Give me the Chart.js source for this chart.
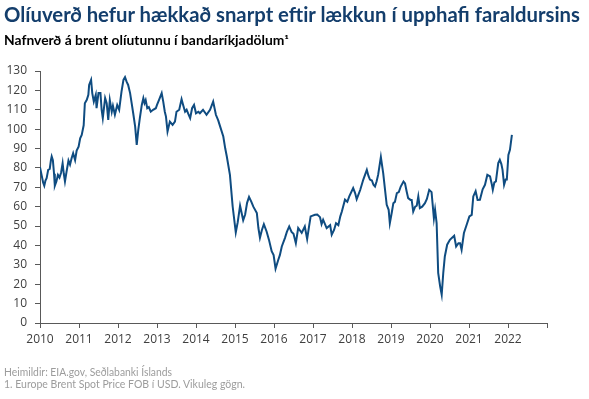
<!DOCTYPE html>
<html lang="is">
<head>
<meta charset="utf-8">
<script src="https://cdn.jsdelivr.net/npm/chart.js@4/dist/chart.umd.min.js"></script>
<style>
  html, body { margin: 0; padding: 0; background: #fff; }
  #wrap { position: relative; width: 589px; height: 399px; overflow: hidden; }
  #chart { position: absolute; left: 0; top: 0; }
  .txt { position: absolute; left: 4px; white-space: nowrap; font-family: Lato, "Open Sans", sans-serif; transform-origin: 0 0; }
  #title { top: 4px; font-size: 20px; line-height: 20px; font-weight: 700; color: #143e6c; }
  #subtitle { top: 35px; font-size: 12.5px; line-height: 12.5px; font-weight: 700; color: #000; }
  .foot { font-size: 11px; line-height: 11px; color: #9c9c9c; }
</style>
</head>
<body>
<div id="wrap">
  <canvas id="chart" width="589" height="399"></canvas>
  <div class="txt" id="title" data-w="576">Olíuverð hefur hækkað snarpt eftir lækkun í upphafi faraldursins</div>
  <div class="txt" id="subtitle" data-w="285">Nafnverð á brent olíutunnu í bandaríkjadölum¹</div>
  <div class="txt foot" style="top:366px" data-w="168">Heimildir: EIA.gov, Seðlabanki Íslands</div>
  <div class="txt foot" style="top:378px" data-w="241">1. Europe Brent Spot Price FOB í USD. Vikuleg gögn.</div>
</div>
<script>
// Brent price (USD per barrel), position in decimal years
const dates = [
  2010.00, 2010.04, 2010.08, 2010.11, 2010.14, 2010.17, 2010.21, 2010.25, 2010.28, 2010.30,
  2010.33, 2010.36, 2010.38, 2010.42, 2010.46, 2010.50, 2010.54, 2010.58, 2010.61, 2010.64,
  2010.68, 2010.73, 2010.77, 2010.81, 2010.85, 2010.90, 2010.94, 2010.99,
  2011.03, 2011.07, 2011.12, 2011.15, 2011.20, 2011.24, 2011.26, 2011.31, 2011.34, 2011.38,
  2011.43, 2011.45, 2011.50, 2011.55, 2011.58, 2011.61, 2011.67, 2011.71, 2011.75, 2011.79,
  2011.84, 2011.87, 2011.92, 2011.98,
  2012.03, 2012.09, 2012.14, 2012.18, 2012.22, 2012.26, 2012.31, 2012.35, 2012.39, 2012.44,
  2012.48, 2012.52, 2012.56, 2012.61, 2012.65, 2012.68, 2012.71, 2012.75, 2012.79, 2012.84,
  2012.90, 2012.97,
  2013.00, 2013.05, 2013.12, 2013.16, 2013.20, 2013.23, 2013.27, 2013.33, 2013.40, 2013.46,
  2013.50, 2013.57, 2013.63, 2013.67, 2013.72, 2013.76, 2013.80, 2013.85, 2013.90, 2013.95,
  2014.00, 2014.06, 2014.10, 2014.18, 2014.27, 2014.36, 2014.44, 2014.51, 2014.57, 2014.62,
  2014.70, 2014.75, 2014.79, 2014.87, 2014.94,
  2015.02, 2015.07, 2015.13, 2015.21, 2015.26, 2015.31, 2015.36, 2015.42, 2015.47, 2015.56,
  2015.60, 2015.64, 2015.69, 2015.74, 2015.81, 2015.87, 2015.94, 2015.99,
  2016.04, 2016.11, 2016.15, 2016.20, 2016.28, 2016.33, 2016.39, 2016.45, 2016.50, 2016.56,
  2016.62, 2016.71, 2016.79, 2016.85, 2016.90, 2016.94,
  2017.05, 2017.11, 2017.18, 2017.22, 2017.26, 2017.35, 2017.44, 2017.48, 2017.54, 2017.59,
  2017.65, 2017.70, 2017.74, 2017.82, 2017.88, 2017.93,
  2018.03, 2018.08, 2018.12, 2018.16, 2018.21, 2018.29, 2018.38, 2018.42, 2018.46, 2018.51,
  2018.55, 2018.59, 2018.63, 2018.67, 2018.74, 2018.80, 2018.84, 2018.89, 2018.94, 2018.97,
  2019.02, 2019.06, 2019.10, 2019.15, 2019.20, 2019.25, 2019.32, 2019.36, 2019.40, 2019.44,
  2019.50, 2019.53, 2019.57, 2019.62, 2019.66, 2019.70, 2019.74, 2019.80, 2019.87, 2019.92,
  2019.98,
  2020.04, 2020.10, 2020.13, 2020.17, 2020.21, 2020.26, 2020.30, 2020.34, 2020.38, 2020.44,
  2020.51, 2020.62, 2020.67, 2020.73, 2020.77, 2020.81, 2020.87, 2020.94,
  2021.01, 2021.07, 2021.11, 2021.17, 2021.22, 2021.28, 2021.35, 2021.41, 2021.47, 2021.54,
  2021.58, 2021.61, 2021.65, 2021.69, 2021.75, 2021.79, 2021.83, 2021.86, 2021.90, 2021.94,
  2021.97,
  2022.01, 2022.05, 2022.10
];
const prices = [
  80.4, 76.4, 72.5, 70.8, 73.5, 74.7, 79.0, 79.5, 84.0, 85.9,
  84.0, 77.0, 70.8, 73.0, 76.4, 75.0, 77.5, 82.4, 77.0, 73.0,
  78.0, 83.8, 81.7, 85.0, 87.6, 84.0, 89.0, 91.0,
  95.3, 97.0, 102.0, 113.4, 115.1, 117.7, 122.8, 125.4, 118.6, 114.2,
  117.7, 110.8, 118.6, 118.6, 110.0, 105.7, 116.0, 113.4, 104.8, 115.0,
  109.0, 112.0, 107.4, 112.5,
  110.0, 119.4, 125.4, 126.8, 124.5, 122.8, 118.6, 113.4, 108.2, 101.3,
  91.9, 99.6, 105.7, 112.5, 116.0, 113.4, 115.0, 110.8, 111.4, 109.0,
  110.0, 110.8,
  112.5, 115.0, 118.6, 114.2, 109.0, 106.5, 98.8, 103.9, 102.2, 103.9,
  109.0, 110.0, 115.5, 112.5, 109.0, 110.0, 108.0, 105.7, 110.8, 112.5,
  108.2, 109.0, 108.2, 110.0, 107.4, 110.0, 114.2, 107.4, 104.5, 101.3,
  96.2, 90.0, 85.9, 76.4, 60.1,
  46.7, 52.0, 60.5, 53.0, 56.0, 62.0, 65.0, 62.5, 60.0, 56.7,
  49.0, 44.0, 48.0, 51.0, 47.2, 43.0, 37.0, 35.0,
  28.0, 32.6, 35.0, 39.5, 43.8, 47.0, 49.8, 47.0, 46.0, 41.2,
  49.0, 46.5, 49.8, 43.3, 50.0, 55.0,
  55.8, 56.0, 54.6, 51.0, 53.3, 49.0, 50.5, 45.5, 48.0, 51.5,
  50.5, 55.0, 57.5, 63.6, 62.5, 65.3,
  69.6, 67.0, 63.9, 66.0, 68.6, 74.0, 79.0, 76.0, 74.0, 73.5,
  71.3, 70.4, 73.0, 76.4, 85.6, 77.3, 70.0, 61.0, 58.4, 51.5,
  57.0, 61.8, 62.5, 67.0, 67.5, 70.4, 73.0, 72.0, 68.0, 64.4,
  63.5, 63.5, 57.5, 60.0, 60.5, 65.3, 59.3, 60.0, 61.8, 64.0,
  68.7,
  67.5, 54.0, 58.4, 51.5, 25.8, 18.9, 14.6, 25.8, 34.3, 40.4,
  42.9, 45.0, 39.5, 41.2, 41.2, 37.8, 46.4, 50.7,
  55.0, 55.8, 65.3, 68.0, 63.5, 63.6, 69.0, 71.3, 76.4, 75.6,
  72.0, 68.7, 72.5, 73.0, 82.5, 84.2, 82.0, 79.0, 71.3, 74.0,
  74.0,
  86.7, 89.3, 97.0
];
const yearLabels = ['2010', '2011', '2012', '2013', '2014', '2015', '2016',
  '2017', '2018', '2019', '2020', '2021', '2022'];

// squeeze each text line to the width it has in the picture
document.querySelectorAll('.txt').forEach(function(el) {
  const target = Number(el.dataset.w);
  const w = el.getBoundingClientRect().width;
  if (w > 0) el.style.transform = 'scaleX(' + (target / w) + ')';
});

const tickFont = { family: '"Open Sans", sans-serif', size: 12 };

new Chart(document.getElementById('chart'), {
  type: 'line',
  data: {
    datasets: [{
      data: dates.map((d, i) => ({ x: d, y: prices[i] })),
      borderColor: '#0f4c81',
      borderWidth: 2,
      pointRadius: 0,
      tension: 0,
      fill: false
    }]
  },
  options: {
    responsive: false,
    animation: false,
    layout: { padding: { top: 71, left: 0, right: 42, bottom: 52 } },
    plugins: { legend: { display: false }, tooltip: { enabled: false } },
    scales: {
      x: {
        type: 'linear',
        min: 2010,
        max: 2023,
        afterFit: function(scale) { scale.height = 24; },
        border: { color: '#595959', width: 1 },
        grid: { drawOnChartArea: false, drawTicks: true, tickLength: 5, color: '#595959' },
        ticks: {
          stepSize: 1,
          autoSkip: false,
          maxRotation: 0,
          padding: 4,
          color: '#404040',
          font: tickFont,
          callback: function(value) { return yearLabels[value - 2010] || ''; }
        }
      },
      y: {
        min: 0,
        max: 130,
        afterFit: function(scale) { scale.width = 40; },
        border: { color: '#595959', width: 1 },
        grid: { drawOnChartArea: false, drawTicks: true, tickLength: 5, color: '#595959' },
        ticks: {
          stepSize: 10,
          padding: 8,
          color: '#404040',
          font: tickFont
        }
      }
    }
  }
});
</script>
</body>
</html>
